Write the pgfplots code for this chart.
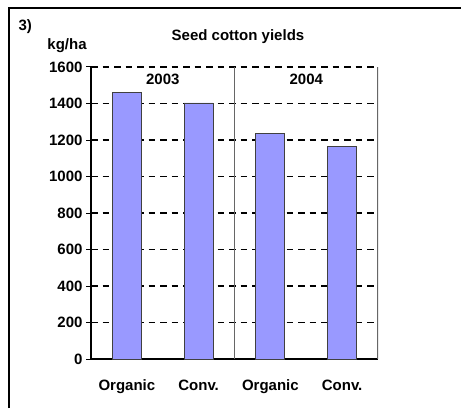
\documentclass[border=0pt]{standalone}
\usepackage{pgfplots}
\pgfplotsset{compat=1.18}
\usepackage{fontspec}
\setmainfont{Liberation Sans}
\definecolor{barc}{HTML}{9999FF}
\begin{document}
\begin{tikzpicture}[x=1bp,y=1bp, font=\fontsize{15bp}{18bp}\selectfont\bfseries]
\useasboundingbox (0,0) rectangle (461,408);
\fill[white] (0,0) rectangle (461,408);
\draw[line width=2bp] (9,0) -- (9,400) -- (461,400);
\node[anchor=west] at (15,381) {3)};
\node at (238,371) {Seed cotton yields};
\node at (67,362) {kg/ha};
\begin{axis}[
  at={(91bp,49bp)}, anchor=south west,
  scale only axis, width=287bp, height=292bp,
  xmin=-0.5, xmax=3.5, ymin=0, ymax=1600,
  ytick={0,200,...,1600},
  xtick={0,1,2,3}, xticklabels={Organic,Conv.,Organic,Conv.},
  ymajorgrids,
  major grid style={black, dash pattern=on 6.5bp off 5bp, line width=1.1bp},
  axis x line*=bottom, axis y line*=left,
  axis line style={-, black, line width=1.2bp},
  tick align=outside, major tick length=5bp,
  ytick style={black, line width=1bp}, xtick style={draw=none},
  xticklabel style={yshift=-12bp},
  /pgf/number format/assume math mode=true,
  /pgf/number format/1000 sep={},
  ybar, bar width=29bp,
]
\addplot[fill=barc, draw=black!75, line width=0.9bp] coordinates {(0,1458) (1,1403) (2,1237) (3,1163)};
\draw[black!60, line width=1bp] (axis cs:1.5,0) -- (axis cs:1.5,1600);
\draw[black!60, line width=1.2bp] (axis cs:3.5,0) -- (axis cs:3.5,1600);
\node at (axis cs:0.5,1535) {2003};
\node at (axis cs:2.5,1535) {2004};
\end{axis}
\end{tikzpicture}
\end{document}
